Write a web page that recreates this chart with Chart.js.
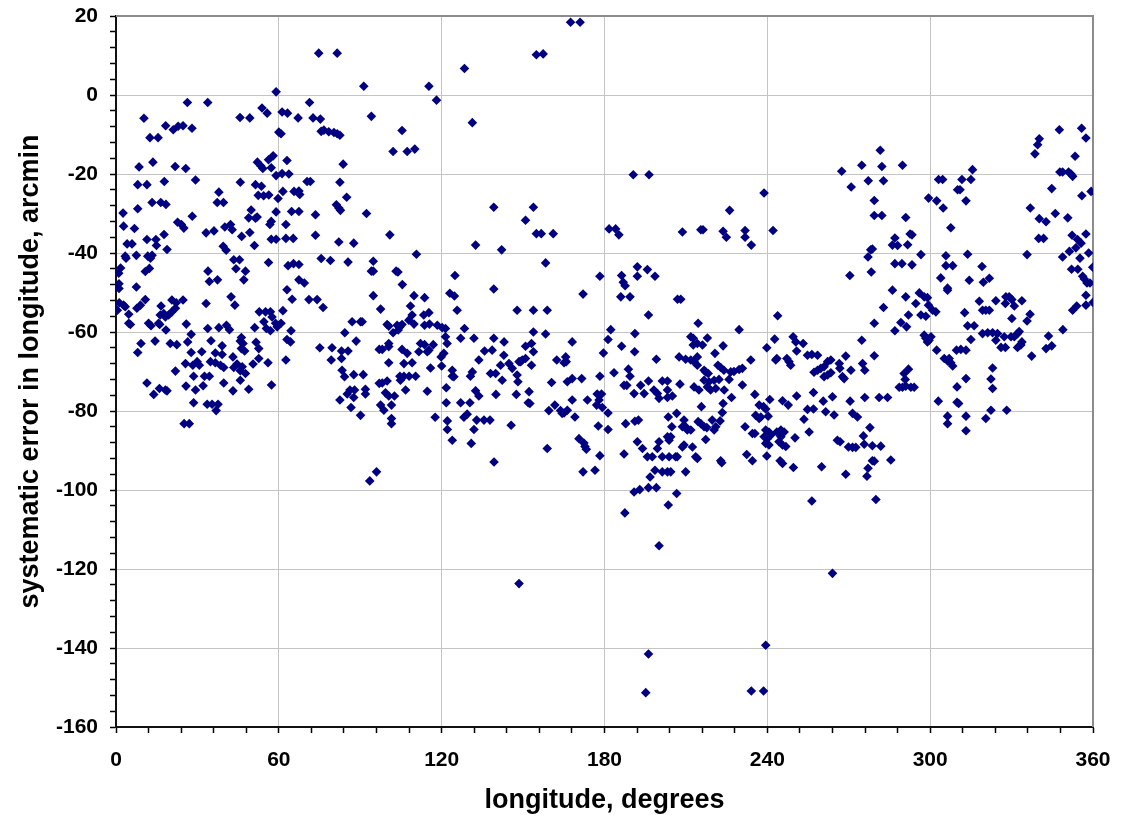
<!DOCTYPE html>
<html>
<head>
<meta charset="utf-8">
<script src="https://cdn.jsdelivr.net/npm/chart.js@4.4.1/dist/chart.umd.min.js"></script>
<style>
  html, body { margin: 0; padding: 0; background: #fff; }
</style>
</head>
<body>
<canvas id="scatterChart" width="1122" height="824"></canvas>
<script>
// axis labels
var xTickLabels = [0, 60, 120, 180, 240, 300, 360];
var yTickLabels = [20, 0, -20, -40, -60, -80, -100, -120, -140, -160];

var lon0to70 = [
    59.0, 26.3, 33.8, 10.3, 45.7, 49.3, 53.8, 55.7,
    61.2, 63.2, 67.1, 12.5, 15.5, 18.3, 21.1, 22.9,
    24.7, 28.0, 60.0, 60.8, 8.5, 13.6, 21.8, 25.7,
    29.3, 8.0, 11.4, 17.8, 52.1, 53.3, 54.1, 56.2,
    57.9, 57.2, 63.0, 59.0, 61.2, 63.7, 45.8, 51.4,
    53.6, 52.4, 54.4, 56.3, 61.5, 59.7, 65.6, 67.4,
    67.7, 37.9, 37.3, 39.6, 13.3, 16.5, 18.4, 2.6,
    8.0, 49.8, 59.0, 64.7, 67.4, 28.1, 22.7, 24.1,
    25.0, 2.8, 6.8, 48.9, 51.4, 52.0, 57.2, 56.7,
    62.6, 33.2, 36.1, 40.1, 42.2, 42.8, 46.3, 49.3,
    17.7, 11.4, 14.7, 4.1, 5.9, 14.9, 18.8, 51.0,
    57.2, 59.0, 62.6, 65.3, 39.5, 40.6, 3.4, 3.7,
    7.5, 11.7, 13.3, 12.7, 43.4, 45.5, 56.2, 63.4,
    65.4, 67.4, 1.7, 1.0, 10.8, 12.3, 33.9, 44.2,
    47.7, 34.4, 37.4, 47.1, 1.1, 1.1, 7.5, 67.4,
    69.4, 63.0,
    42.4, 43.8, 64.9, 1.2, 2.8, 3.4, 0.5, 4.7,
    7.7, 9.0, 10.8, 4.7, 5.3, 12.0, 12.9, 16.6,
    20.6, 22.2, 24.7, 16.3, 17.6, 18.2, 19.4, 20.6,
    21.9, 15.7, 16.1, 18.4, 25.9, 33.2, 33.8, 37.9,
    40.7, 41.8, 27.7, 26.4, 35.0, 39.1, 9.2, 14.4,
    20.0, 22.4, 8.0, 27.7, 31.6, 36.6, 39.1, 43.1,
    46.2, 45.8, 46.8, 46.2, 47.4, 51.6, 52.6, 51.1,
    52.8, 55.1, 56.9, 54.5, 55.4, 56.9, 58.8, 57.5,
    59.4, 60.8, 61.5, 64.5, 63.0, 64.3, 62.6, 56.0,
    52.6, 50.5, 25.6, 28.3, 29.9, 30.7, 34.8, 36.6,
    38.5, 39.7, 43.4, 44.6, 46.5, 45.8, 47.7, 21.9,
    28.6, 32.6, 34.4, 45.8, 11.4, 25.8, 32.1, 39.7,
    16.0, 18.8, 18.2, 13.9, 29.3, 43.1, 48.9, 57.3,
    28.6, 33.6, 35.4, 37.6, 36.9, 25.1, 27.0
];
var err0to70 = [
    0.8, -1.9, -1.9, -5.9, -5.7, -5.8, -3.3, -4.6,
    -4.3, -4.6, -5.8, -10.8, -10.8, -7.8, -8.8, -7.9,
    -7.8, -8.4, -9.4, -9.8, -18.2, -17.0, -18.1, -18.6,
    -21.5, -22.7, -22.7, -21.9, -17.0, -17.9, -18.6, -16.4,
    -15.4, -18.4, -16.6, -20.4, -19.9, -20.0, -22.1, -22.7,
    -23.1, -25.4, -25.5, -25.3, -24.4, -26.2, -24.4, -24.3,
    -25.2, -24.6, -27.2, -27.2, -27.2, -27.2, -27.7, -29.9,
    -28.8, -29.1, -29.6, -29.5, -29.5, -30.7, -32.2, -32.8,
    -33.7, -33.2, -33.8, -31.1, -31.2, -30.9, -32.0, -32.8,
    -32.8, -34.9, -34.4, -33.4, -32.8, -34.1, -35.8, -34.8,
    -35.3, -36.6, -36.6, -37.7, -37.7, -38.1, -39.1, -38.1,
    -36.5, -36.5, -36.3, -36.3, -38.3, -39.3, -40.8, -41.3,
    -40.6, -40.8, -40.6, -41.3, -41.7, -41.7, -42.4, -43.2,
    -42.7, -42.9, -43.8, -45.1, -44.7, -43.9, -44.6, -44.0,
    -44.6, -47.2, -46.8, -46.8, -47.8, -49.0, -48.6, -46.8,
    -47.6, -49.3,
    -51.1, -53.2, -51.7, -52.6, -53.2, -53.6, -54.5, -55.5,
    -54.0, -53.2, -51.8, -57.8, -58.1, -57.8, -58.4, -53.4,
    -51.9, -52.6, -51.9, -55.7, -55.3, -56.2, -55.7, -54.9,
    -54.0, -57.8, -58.1, -59.5, -58.0, -52.8, -59.1, -58.9,
    -58.3, -59.4, -60.6, -62.5, -62.2, -63.5, -62.9, -62.3,
    -62.9, -63.2, -65.2, -65.2, -65.0, -65.3, -65.7, -66.3,
    -61.4, -62.3, -62.9, -64.2, -64.8, -62.6, -64.2, -58.9,
    -54.9, -54.9, -54.9, -57.4, -59.1, -59.7, -57.8, -56.2,
    -58.7, -57.8, -54.6, -59.7, -61.9, -62.5, -67.1, -67.8,
    -66.7, -68.1, -68.0, -68.4, -67.5, -68.4, -67.5, -67.8,
    -68.4, -69.0, -69.0, -68.1, -68.8, -69.8, -70.5, -69.9,
    -71.2, -71.2, -71.2, -72.2, -72.9, -73.7, -73.6, -72.9,
    -74.3, -74.9, -74.7, -75.8, -74.7, -74.9, -74.5, -73.4,
    -77.9, -78.3, -78.3, -78.3, -79.9, -83.2, -83.2
];

var lon70to145 = [
    74.7, 81.5, 91.3, 115.3, 128.4, 71.3, 118.1, 72.6,
    75.3, 94.1, 131.3, 75.6, 76.6, 78.4, 80.3, 81.5,
    82.5, 105.4, 102.1, 107.3, 110.1, 83.7, 70.4, 71.6,
    82.5, 85.0, 81.2, 82.1, 82.7, 73.5, 92.3, 139.2,
    73.5, 82.1, 87.6, 100.9, 132.5, 142.1, 110.7, 75.6,
    79.0, 85.5, 94.8, 94.1, 94.8, 103.2, 103.9, 105.5,
    124.9, 139.2,
    71.1, 74.1, 76.3, 94.8, 97.5, 109.8, 113.7, 123.0,
    124.7, 125.7, 87.0, 90.1, 90.7, 108.5, 109.1, 107.9,
    109.8, 113.4, 115.3, 113.7, 115.5, 99.9, 100.5, 103.6,
    104.6, 105.4, 102.1, 104.0, 84.3, 88.5, 75.1, 79.6,
    83.1, 85.5, 79.3, 83.1, 97.0, 98.1, 100.5, 100.5,
    105.4, 107.3, 112.2, 113.7, 111.6, 115.3, 116.9, 114.7,
    118.4, 120.2, 121.4, 121.4, 122.0, 120.8, 119.8, 127.0,
    131.9, 128.4, 139.2, 143.0, 135.8, 138.6, 133.7, 141.7,
    142.3, 83.3, 84.2, 87.6, 91.1, 100.5, 106.1, 109.1,
    115.9, 120.0, 123.9, 123.9, 124.5, 131.3, 130.6, 138.0,
    139.9, 104.6, 106.1, 108.0, 110.4, 104.8, 97.0, 98.1,
    99.9, 86.2, 87.9, 91.9, 85.2, 87.6, 82.5, 91.9,
    99.3, 100.5, 102.6, 106.7, 114.7, 121.7, 132.5, 133.7,
    140.0, 121.7, 127.0, 130.4, 86.6, 90.1, 97.5, 98.7,
    101.5, 101.5, 101.5, 117.6, 122.1, 122.1, 128.2, 129.4,
    132.9, 135.6, 137.8, 131.9, 123.9, 130.9, 139.3, 96.0,
    93.5
];
var err70to145 = [
    10.6, 10.6, 2.2, 2.2, 6.7, -1.9, -1.3, -5.8,
    -6.1, -5.4, -7.0, -9.2, -8.9, -9.3, -9.5, -9.8,
    -10.2, -9.0, -14.3, -14.3, -13.7, -17.5, -21.9, -21.9,
    -22.1, -25.9, -27.8, -28.6, -29.2, -30.3, -30.0, -28.4,
    -35.5, -37.2, -37.5, -35.4, -38.0, -39.2, -40.3, -41.4,
    -41.9, -42.3, -42.1, -44.6, -44.6, -44.6, -44.8, -48.0,
    -45.7, -49.1,
    -51.8, -51.8, -53.8, -50.8, -54.2, -50.8, -51.3, -50.2,
    -50.9, -54.5, -57.4, -57.4, -57.4, -53.4, -55.7, -57.0,
    -58.0, -55.7, -55.1, -58.3, -58.0, -58.1, -58.5, -58.3,
    -58.7, -58.1, -60.2, -59.5, -60.2, -62.3, -64.0, -64.0,
    -64.8, -64.8, -67.1, -66.7, -64.4, -64.4, -62.9, -63.7,
    -64.4, -65.4, -62.9, -63.2, -65.0, -64.6, -63.2, -65.0,
    -58.3, -58.9, -59.1, -61.2, -62.9, -65.4, -66.3, -61.6,
    -61.6, -59.1, -61.6, -62.5, -64.8, -64.6, -67.1, -68.4,
    -72.2, -69.7, -71.3, -70.8, -70.8, -67.8, -68.0, -67.8,
    -69.1, -68.6, -69.7, -71.2, -71.3, -70.1, -71.2, -70.5,
    -70.5, -71.2, -71.2, -71.2, -71.2, -72.2, -73.0, -72.9,
    -72.4, -74.7, -74.7, -74.5, -75.7, -76.6, -77.2, -75.7,
    -75.4, -76.2, -76.2, -74.7, -75.0, -74.1, -74.9, -76.2,
    -75.8, -77.9, -77.9, -77.9, -79.1, -81.1, -78.5, -79.8,
    -78.5, -81.9, -83.2, -81.6, -82.5, -84.7, -81.6, -80.8,
    -82.3, -82.3, -82.3, -84.7, -87.4, -88.2, -92.9, -95.4,
    -97.7
];

var lon140to212 = [
    167.5, 171.0, 154.9, 157.4, 190.6, 196.4, 153.8, 150.9,
    154.9, 156.7, 161.1, 158.3, 181.7, 184.1, 185.3, 208.7,
    178.3, 186.3, 186.9, 187.6, 192.1, 192.1, 195.8, 198.6,
    172.1, 186.0, 189.4, 206.9, 208.1, 196.2, 147.8, 153.8,
    158.9, 182.3, 191.2, 153.8, 158.3, 150.9, 153.1, 153.8,
    142.9, 144.8, 146.0, 148.5, 149.7, 150.9, 153.1, 149.1,
    147.8, 148.1, 147.5, 152.2, 151.9, 152.5, 168.1, 162.4,
    165.7, 165.1, 165.9, 160.5, 166.3, 168.1, 171.6, 178.3,
    181.3, 179.6, 186.3, 191.1, 183.5, 188.8, 189.4, 187.2,
    188.2, 190.9, 194.6, 193.3, 196.2, 199.1, 201.3, 203.2,
    198.2, 199.5, 200.1, 203.2, 203.2, 205.0, 207.8, 207.5,
    209.9, 159.5, 161.7, 163.8, 164.4, 166.3, 165.1, 169.1,
    168.1, 173.7, 177.3, 178.9, 178.0, 177.1, 179.2, 181.3,
    145.6, 177.7, 181.3, 170.6, 172.4, 173.3, 172.8, 158.9,
    178.3, 172.1, 176.5, 187.8, 191.2, 192.5, 187.2, 192.1,
    194.0, 195.8, 197.6, 199.5, 200.1, 203.2, 203.8, 204.4,
    203.5, 206.6, 204.8, 198.6, 201.3, 203.2, 204.4, 201.3,
    203.8, 206.2, 206.8, 196.8, 190.9, 193.0, 196.2, 199.1,
    206.6, 203.5, 209.9, 209.3, 209.9, 210.5, 208.7, 209.3,
    208.7, 187.5, 200.1, 148.5, 196.2, 195.2
];
var err140to212 = [
    18.4, 18.4, 10.2, 10.4, -20.2, -20.2, -28.4, -31.7,
    -35.1, -35.1, -35.1, -42.5, -33.9, -33.9, -35.4, -34.7,
    -45.9, -45.7, -47.4, -48.3, -43.5, -45.9, -44.2, -45.9,
    -50.4, -51.1, -51.1, -51.7, -51.7, -55.7, -54.5, -54.5,
    -54.5, -59.4, -60.4, -60.0, -60.5, -63.6, -62.9, -65.0,
    -65.9, -68.0, -69.2, -67.5, -67.1, -66.7, -68.4, -67.5,
    -70.9, -72.6, -75.8, -75.1, -77.9, -78.1, -62.5, -67.1,
    -66.3, -67.8, -67.5, -72.8, -72.6, -71.8, -71.8, -71.2,
    -61.9, -65.3, -63.6, -65.0, -70.3, -69.4, -71.2, -73.5,
    -73.5, -75.6, -75.6, -73.5, -72.4, -66.9, -72.4, -72.4,
    -74.7, -75.6, -76.8, -74.7, -76.6, -76.2, -73.2, -66.3,
    -66.9, -79.9, -78.5, -79.9, -80.6, -79.8, -80.5, -81.5,
    -77.2, -77.2, -75.7, -75.7, -77.2, -78.5, -79.1, -80.5,
    -83.6, -83.8, -84.7, -87.0, -88.1, -89.7, -89.0, -89.5,
    -91.3, -95.4, -95.0, -83.2, -82.6, -82.3, -90.9, -87.8,
    -89.5, -91.6, -91.6, -89.5, -87.8, -86.5, -87.4, -86.5,
    -81.5, -80.6, -84.0, -95.0, -95.4, -95.4, -95.4, -91.6,
    -91.6, -91.6, -91.6, -96.7, -100.5, -99.9, -99.4, -99.4,
    -100.9, -103.8, -95.4, -82.3, -84.0, -84.8, -84.0, -88.6,
    -89.1, -105.8, -114.1, -123.7, -141.5, -151.3
];

var lon210to288 = [
    281.6, 274.8, 282.2, 267.4, 270.9, 277.2, 282.8, 279.4,
    279.4, 282.2, 238.8, 226.1, 215.5, 216.3, 223.7, 224.9,
    231.8, 231.8, 234.1, 242.1, 278.1, 278.7, 277.1, 287.0,
    286.1, 287.0, 270.4, 278.3,
    286.1, 282.8, 243.8, 214.5, 279.4, 229.6, 287.0, 211.8,
    212.7, 214.2, 212.7, 216.1, 217.9, 223.7, 220.7, 211.8,
    213.0, 214.2, 214.2, 216.7, 217.3, 218.2, 221.8, 222.8,
    224.0, 226.5, 227.7, 229.6, 230.8, 225.9, 216.7, 218.5,
    220.4, 222.2, 213.0, 214.8, 217.9, 219.1, 221.0, 224.1,
    230.8, 226.8, 215.7, 223.7, 223.4, 233.9, 235.4, 239.8,
    242.7, 240.9, 243.5, 243.1, 245.6, 247.7, 247.2, 248.6,
    248.0, 249.5, 250.5, 253.2, 250.8, 250.8, 237.0, 238.6,
    239.4, 240.3, 237.6, 235.7, 237.0, 231.8, 234.5, 235.4,
    239.4, 240.6, 241.3, 238.8, 240.0, 239.4, 240.6, 243.5,
    245.0, 246.2, 245.0, 244.3, 245.6, 246.8, 250.2, 255.4,
    212.4, 213.6, 214.2, 222.8, 223.2, 232.4, 234.5, 239.8,
    244.7, 245.6, 249.6, 211.8, 219.7, 222.6, 221.0, 220.4,
    217.3, 214.5, 215.5, 216.7, 217.7, 254.8, 256.4, 258.5,
    257.2, 258.5, 259.7, 260.9, 262.2, 263.4, 262.2, 263.4,
    266.5, 266.7, 267.7, 268.3, 268.9, 270.8, 260.9, 257.0,
    260.6, 264.0, 254.8, 257.0, 253.5, 261.5, 264.6, 260.0,
    256.4, 270.5, 275.9, 281.2, 284.3, 271.4, 273.2, 274.8,
    275.1, 275.9, 279.4, 277.8, 275.4, 275.7, 278.7, 281.8,
    265.8, 266.8, 269.9, 271.4, 272.6, 278.7, 279.4, 277.1,
    276.7, 268.9, 285.5, 280.0, 264.0, 239.4, 234.1, 238.6
];
var err210to288 = [
    -14.0, -17.8, -18.1, -19.3, -23.3, -21.7, -21.7, -26.7,
    -30.5, -30.5, -24.8, -29.2, -34.1, -34.1, -34.5, -36.0,
    -34.3, -36.0, -38.0, -34.3, -39.2, -39.0, -41.0, -36.2,
    -38.0, -42.7, -45.7, -44.8,
    -49.4, -53.8, -55.9, -57.8, -57.8, -59.4, -59.7, -61.2,
    -61.6, -62.9, -63.3, -63.3, -61.5, -63.5, -65.4, -67.1,
    -67.5, -66.3, -68.4, -69.7, -70.1, -70.5, -68.4, -69.0,
    -69.7, -70.1, -70.0, -69.5, -69.2, -72.0, -72.2, -72.6,
    -72.2, -72.0, -73.9, -74.7, -73.9, -74.7, -74.3, -74.7,
    -73.4, -76.6, -78.9, -78.1, -80.4, -67.1, -75.8, -64.0,
    -61.8, -77.1, -66.7, -67.1, -77.4, -78.5, -66.7, -68.4,
    -67.5, -61.2, -62.5, -62.9, -64.8, -76.2, -78.5, -78.9,
    -79.5, -81.3, -81.5, -81.1, -81.9, -84.0, -85.7, -85.7,
    -84.8, -85.3, -86.1, -86.5, -87.0, -88.2, -88.6, -85.3,
    -84.8, -85.3, -86.5, -87.8, -88.6, -89.0, -86.8, -85.3,
    -89.1, -91.6, -92.0, -92.6, -93.1, -91.0, -92.6, -91.4,
    -92.6, -93.3, -94.3, -84.8, -82.3, -82.5, -84.0, -84.8,
    -87.2, -82.7, -83.2, -84.0, -84.2, -65.9, -65.7, -65.9,
    -70.2, -69.7, -69.2, -71.3, -70.9, -70.3, -67.5, -67.1,
    -68.0, -69.2, -71.3, -71.8, -66.1, -69.7, -68.8, -75.3,
    -77.5, -76.4, -79.6, -79.5, -82.1, -80.2, -81.0, -94.1,
    -102.8, -77.5, -76.6, -76.6, -76.6, -80.6, -81.5, -62.1,
    -68.0, -69.7, -66.0, -84.2, -86.3, -88.4, -88.8, -88.9,
    -87.4, -87.8, -89.1, -89.2, -89.2, -92.6, -92.7, -94.5,
    -96.5, -96.0, -92.4, -102.4, -121.1, -139.3, -150.9, -150.9
];

var lon285to360 = [
    347.6, 355.8, 357.4, 340.2, 339.6, 338.6, 353.4, 347.8,
    348.8, 351.0, 351.9, 352.5, 344.8, 355.9, 359.3, 336.9,
    340.2, 342.7, 346.1, 350.7, 340.0, 341.8, 352.3, 357.4,
    354.3, 355.6, 353.7, 351.3, 348.8, 355.2, 358.4, 335.7,
    352.1, 354.4, 356.2, 356.8, 357.8, 358.9, 359.9, 289.8,
    303.1, 304.6, 311.7, 315.0, 315.6, 310.1, 311.0, 313.2,
    299.4, 302.4, 304.8, 307.6, 291.0, 292.6, 293.3, 288.0,
    291.7, 296.6, 305.8, 313.8, 289.6, 293.3, 305.8, 308.3,
    319.1, 303.9, 306.4, 314.4, 319.6, 321.8,
    291.0, 296.0, 297.8, 299.0, 294.7, 299.4, 300.9, 302.1,
    296.6, 298.4, 306.4, 292.0, 289.2, 291.3, 297.8, 298.4,
    299.6, 300.3, 299.0, 302.4, 312.7, 313.8, 316.2, 315.0,
    309.7, 311.3, 313.2, 305.2, 306.4, 307.6, 308.3, 307.0,
    318.1, 319.3, 320.5, 321.8, 324.2, 327.9, 329.1, 330.1,
    327.7, 331.0, 333.8, 336.8, 335.7, 330.1, 319.3, 321.2,
    323.0, 324.8, 324.2, 327.3, 329.8, 331.0, 332.2, 332.8,
    326.1, 327.7, 332.2, 333.4, 333.8, 337.4, 343.6, 342.7,
    344.8, 348.9, 352.5, 354.0, 357.4, 357.4, 360.0, 323.0,
    322.4, 323.0, 313.2, 309.9, 303.0, 309.9, 310.5, 306.4,
    306.4, 313.2, 313.2, 320.5, 322.4, 328.2, 292.0, 290.4,
    290.8, 288.6, 289.8, 291.0, 292.9, 294.1
];
var err285to360 = [
    -8.8, -8.4, -10.9, -11.1, -12.6, -14.9, -15.5, -19.5,
    -19.5, -19.5, -20.0, -20.6, -23.7, -25.5, -24.4, -28.6,
    -31.3, -32.1, -30.0, -31.1, -36.3, -36.3, -35.5, -35.2,
    -36.6, -37.5, -38.7, -39.6, -41.0, -41.3, -40.0, -40.4,
    -44.1, -44.1, -45.9, -46.6, -47.6, -47.6, -43.6, -17.8,
    -21.4, -21.4, -21.4, -21.4, -18.9, -24.0, -24.0, -26.8,
    -26.1, -26.8, -28.6, -33.6, -31.0, -35.2, -35.4, -38.1,
    -37.9, -40.4, -40.7, -40.3, -42.7, -43.0, -43.2, -43.2,
    -43.4, -46.3, -48.9, -46.9, -47.4, -46.4,
    -51.1, -50.1, -51.1, -51.3, -52.8, -53.2, -54.5, -54.9,
    -55.7, -56.0, -49.4, -55.7, -57.6, -58.7, -60.8, -61.6,
    -62.1, -61.2, -62.5, -64.6, -55.1, -58.4, -58.4, -61.9,
    -64.6, -64.4, -64.6, -66.7, -67.3, -67.8, -68.6, -66.7,
    -52.2, -54.5, -54.5, -54.5, -52.1, -51.1, -51.1, -51.8,
    -52.8, -53.4, -52.1, -55.5, -57.2, -56.6, -60.4, -60.2,
    -60.2, -60.4, -62.1, -61.2, -61.2, -61.2, -60.4, -59.9,
    -63.9, -63.9, -63.9, -63.3, -62.5, -66.1, -61.0, -64.2,
    -63.5, -59.4, -54.5, -53.4, -50.7, -53.2, -52.5, -69.1,
    -71.9, -74.3, -71.8, -73.9, -77.5, -77.8, -78.1, -81.3,
    -83.2, -81.3, -85.0, -81.9, -79.8, -79.8, -69.4, -70.5,
    -72.0, -74.0, -74.0, -73.7, -74.0, -74.0
];

var bands = [
    [lon0to70, err0to70],
    [lon70to145, err70to145],
    [lon140to212, err140to212],
    [lon210to288, err210to288],
    [lon285to360, err285to360]
];
var points = [];
bands.forEach(function (b) {
    b[0].forEach(function (x, i) { points.push({x: x, y: b[1][i]}); });
});

var fontFamily = "'Liberation Sans', Arial, sans-serif";

// grey frame on the top and right of the plot area
var plotFrame = {
    id: 'plotFrame',
    beforeDatasetsDraw: function (chart) {
        var a = chart.chartArea, ctx = chart.ctx;
        ctx.save();
        ctx.strokeStyle = '#8c8c8c';
        ctx.lineWidth = 2;
        ctx.beginPath();
        ctx.moveTo(a.left, a.top);
        ctx.lineTo(a.right, a.top);
        ctx.lineTo(a.right, a.bottom);
        ctx.stroke();
        ctx.restore();
    }
};

new Chart(document.getElementById('scatterChart').getContext('2d'), {
    type: 'scatter',
    data: {
        datasets: [{
            data: points,
            pointStyle: 'rectRot',
            pointRadius: 4.8,
            pointHoverRadius: 4.8,
            borderWidth: 0,
            backgroundColor: '#000080',
            borderColor: '#000080'
        }]
    },
    options: {
        responsive: false,
        animation: false,
        layout: {padding: {left: 0, top: 16, right: 29, bottom: 0}},
        plugins: {legend: {display: false}, tooltip: {enabled: false}},
        scales: {
            x: {
                type: 'linear',
                min: 0,
                max: 360,
                afterFit: function (scale) {
                    scale.height = 97;
                    scale.paddingLeft = 0;
                    scale.paddingRight = 0;
                },
                ticks: {
                    stepSize: 12,
                    autoSkip: false,
                    maxRotation: 0,
                    padding: 15,
                    color: '#000',
                    font: {family: fontFamily, size: 21, weight: 'bold'},
                    callback: function (v) { return xTickLabels.indexOf(v) >= 0 ? String(v) : ''; }
                },
                grid: {
                    color: function (c) {
                        return c.tick && xTickLabels.indexOf(c.tick.value) >= 0 ? '#c4c4c4' : 'rgba(0,0,0,0)';
                    },
                    tickColor: '#000',
                    tickLength: 6,
                    tickWidth: 1.5,
                    lineWidth: 1
                },
                border: {display: true, color: '#111', width: 2},
                title: {
                    display: true,
                    text: 'longitude, degrees',
                    color: '#000',
                    font: {family: fontFamily, size: 27, weight: 'bold'},
                    padding: {top: 0, bottom: 7}
                }
            },
            y: {
                type: 'linear',
                min: -160,
                max: 20,
                afterFit: function (scale) {
                    scale.width = 116;
                    scale.paddingTop = 0;
                    scale.paddingBottom = 0;
                },
                ticks: {
                    stepSize: 4,
                    autoSkip: false,
                    padding: 12,
                    color: '#000',
                    font: {family: fontFamily, size: 21, weight: 'bold'},
                    callback: function (v) { return yTickLabels.indexOf(v) >= 0 ? String(v) : ''; }
                },
                grid: {
                    color: function (c) {
                        return c.tick && yTickLabels.indexOf(c.tick.value) >= 0 ? '#c4c4c4' : 'rgba(0,0,0,0)';
                    },
                    tickColor: '#000',
                    tickLength: 6,
                    tickWidth: 1.5,
                    lineWidth: 1
                },
                border: {display: true, color: '#111', width: 2},
                title: {
                    display: true,
                    text: 'systematic error in longitude, arcmin',
                    color: '#000',
                    font: {family: fontFamily, size: 27, weight: 'bold'},
                    padding: {top: 14, bottom: 0}
                }
            }
        }
    },
    plugins: [plotFrame]
});
</script>
</body>
</html>
